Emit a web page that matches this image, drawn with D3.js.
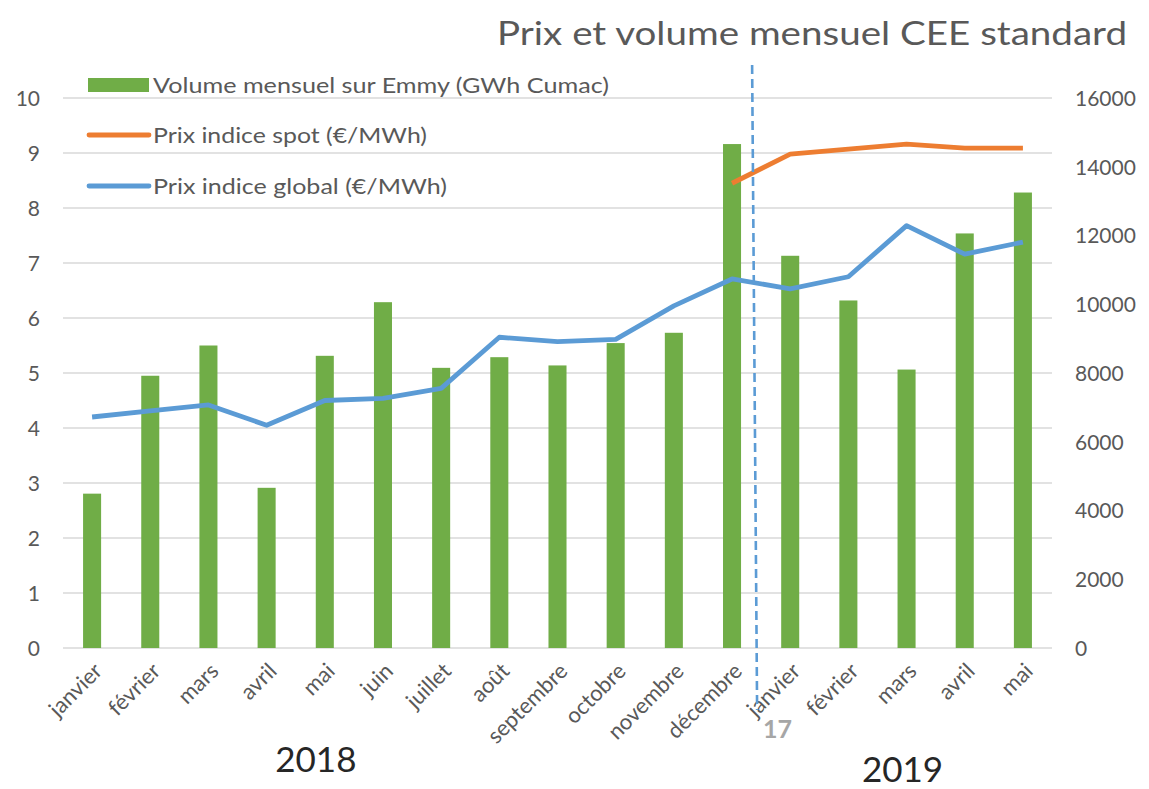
<!DOCTYPE html>
<html>
<head>
<meta charset="utf-8">
<script src="https://cdn.jsdelivr.net/npm/d3@7"></script>
<style>
  body { margin: 0; background: #fff; }
  text { font-family: Lato, "Open Sans", sans-serif; }
</style>
</head>
<body>
<div id="chart"></div>
<script>

// ---- data ----
var monthLabels = ["janvier", "février", "mars", "avril", "mai", "juin", "juillet", "août",
                   "septembre", "octobre", "novembre", "décembre",
                   "janvier", "février", "mars", "avril", "mai"];
var volume = [4490, 7920, 8800, 4660, 8500, 10060, 8150, 8460, 8220, 8870, 9170, 14660,
              11410, 10110, 8100, 12060, 13250];
var prixGlobal = [4.2, 4.31, 4.42, 4.05, 4.5, 4.54, 4.72, 5.65, 5.57, 5.61, 6.22, 6.71,
                  6.53, 6.75, 7.68, 7.16, 7.38];
var prixSpot = [null, null, null, null, null, null, null, null, null, null, null, 8.45,
                8.98, 9.07, 9.16, 9.09, 9.09];
var leftTicks = [0, 1, 2, 3, 4, 5, 6, 7, 8, 9, 10];
var rightTicks = [0, 2000, 4000, 6000, 8000, 10000, 12000, 14000, 16000];
var years = ["2018", "2019"];
var legendItems = [
    {label: "Volume mensuel sur Emmy (GWh Cumac)", type: "bar", color: "#70AD47"},
    {label: "Prix indice spot (€/MWh)", type: "line", color: "#ED7D31"},
    {label: "Prix indice global (€/MWh)", type: "line", color: "#5B9BD5"}
];
var titleText = "Prix et volume mensuel CEE standard";

// ---- layout ----
var W = 1149, H = 789;
var plot = {left: 63, right: 1052, top: 98, bottom: 648};
var textColor = "#595959";

var svg = d3.select("#chart").append("svg").attr("width", W).attr("height", H);

var idx = d3.range(monthLabels.length);
var x = d3.scaleBand().domain(idx).range([plot.left, plot.right]).paddingInner(0.69).paddingOuter(0.345);
var xc = i => x(i) + x.bandwidth() / 2;
var yL = d3.scaleLinear().domain([0, 10]).range([plot.bottom, plot.top]);
var yR = d3.scaleLinear().domain([0, 16000]).range([plot.bottom, plot.top]);

// gridlines
svg.append("g").selectAll("line").data(leftTicks).join("line")
    .attr("x1", plot.left).attr("x2", plot.right)
    .attr("y1", d => yL(d)).attr("y2", d => yL(d))
    .attr("stroke", "#D9D9D9").attr("stroke-width", 1.3);

// left axis
var axL = svg.append("g").attr("transform", "translate(" + (plot.left - 23) + ",0)")
    .call(d3.axisLeft(yL).tickValues(leftTicks).tickSize(0).tickPadding(0));
axL.select(".domain").remove();
axL.selectAll("text").attr("fill", textColor).style("font-size", "21px").attr("dy", "0.35em");

// right axis
var axR = svg.append("g").attr("transform", "translate(" + (plot.right + 23) + ",0)")
    .call(d3.axisRight(yR).tickValues(rightTicks).tickSize(0).tickPadding(0).tickFormat(d3.format("d")));
axR.select(".domain").remove();
axR.selectAll("text").attr("fill", textColor).style("font-size", "21px").attr("dy", "0.35em");

// bars (right axis)
svg.append("g").selectAll("rect").data(volume).join("rect")
    .attr("x", (d, i) => x(i)).attr("width", x.bandwidth())
    .attr("y", d => yR(d)).attr("height", d => yR(0) - yR(d))
    .attr("fill", "#70AD47");

// lines (left axis)
var line = d3.line().defined(d => d != null).x((d, i) => xc(i)).y(d => yL(d));
svg.append("path").datum(prixGlobal).attr("d", line)
    .attr("fill", "none").attr("stroke", "#5B9BD5").attr("stroke-width", 4.8).attr("stroke-linejoin", "round");
svg.append("path").datum(prixSpot).attr("d", line)
    .attr("fill", "none").attr("stroke", "#ED7D31").attr("stroke-width", 4.8).attr("stroke-linejoin", "round");

// month labels, rotated
svg.append("g").selectAll("text").data(monthLabels).join("text")
    .attr("transform", (d, i) => "translate(" + (xc(i) + 6) + "," + (plot.bottom + 19) + ") rotate(-45)")
    .attr("text-anchor", "end").attr("dy", "0.35em")
    .attr("fill", textColor).style("font-size", "22px")
    .text(d => d);

// year separator (dashed)
var sepX = (xc(11) + xc(12)) / 2 - 7;
svg.append("line")
    .attr("x1", sepX - 2).attr("y1", plot.top - 33)
    .attr("x2", sepX + 3).attr("y2", plot.bottom + 62)
    .attr("stroke", "#5B9BD5").attr("stroke-width", 2.6).attr("stroke-dasharray", "9,5");

// year labels
var yearX = {"2018": (xc(4) + xc(5)) / 2 - 38, "2019": xc(14) - 4};
var yearY = {"2018": 772, "2019": 782};
svg.append("g").selectAll("text").data(years).join("text")
    .attr("x", yr => yearX[yr]).attr("y", yr => yearY[yr])
    .attr("text-anchor", "middle").attr("fill", "#262626").style("font-size", "35px")
    .text(yr => yr);

// slide number
svg.append("text").attr("x", 763).attr("y", 738)
    .attr("fill", "#A6A6A6").style("font-size", "25px").style("font-weight", "bold").text("17");

// title
svg.append("text").attr("x", 497).attr("y", 45)
    .attr("fill", textColor).style("font-size", "33px")
    .attr("textLength", 630).attr("lengthAdjust", "spacingAndGlyphs")
    .text(titleText);

// legend
var legendW = [456, 274, 294];
var legend = svg.append("g").selectAll("g").data(legendItems).join("g")
    .attr("transform", (d, i) => "translate(88," + [85, 135, 186][i] + ")");
legend.filter(d => d.type === "bar").append("rect")
    .attr("x", 0).attr("y", -7).attr("width", 61).attr("height", 14).attr("fill", d => d.color);
legend.filter(d => d.type === "line").append("line")
    .attr("x1", 1).attr("x2", 61).attr("stroke", d => d.color).attr("stroke-width", 4.8).attr("stroke-linecap", "round");
legend.append("text").attr("x", 65).attr("dy", "0.35em")
    .attr("fill", textColor).style("font-size", "22px")
    .attr("textLength", (d, i) => legendW[i]).attr("lengthAdjust", "spacingAndGlyphs")
    .text(d => d.label);

</script>
</body>
</html>
